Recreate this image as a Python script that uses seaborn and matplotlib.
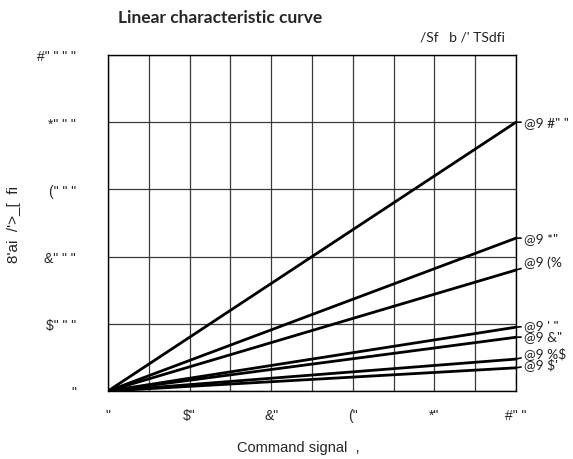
import numpy as np
import pandas as pd
import matplotlib
matplotlib.use('Agg')
import matplotlib.pyplot as plt
from matplotlib.ticker import MultipleLocator
import seaborn as sns

sns.set_theme(style='white')
plt.rcParams['font.family'] = ['Liberation Sans', 'DejaVu Sans']

# signal range and end values of each characteristic
signal = [0, 100]
curve_names = ['@9 #" "', '@9 *"', '@9 (%', '@9 \' "', '@9 &"', '@9 %$', "@9 $'"]
curve_end = [8000, 4550, 3600, 1900, 1600, 950, 690]
# small vertical nudges of the labels so they do not collide (pixels)
label_nudge = [0, 0, -8, -2, -1, -7, -4]

ytick_vals = [0, 2000, 4000, 6000, 8000, 10000]
ytick_text = ['"', '$" " "', '&" " "', '(" " "', '*" " "', '#" " " "']
xtick_vals = [0, 20, 40, 60, 80, 100]
xtick_text = ['"', '$"', '&"', '("', '*"', '#" "']

rows = []
for name, end in zip(curve_names, curve_end):
    for x in signal:
        rows.append({'signal': x, 'value': end * x / signal[-1], 'curve': name})
df = pd.DataFrame(rows)

fig = plt.figure(figsize=(5.73, 4.6), dpi=100)
ax = fig.add_axes([108/573, 1-392/460, (516-108)/573, (392-56)/460])

sns.lineplot(data=df, x='signal', y='value', units='curve', estimator=None,
             color='black', lw=2.0, ax=ax, legend=False)

ax.set_xlim(0, 100)
ax.set_ylim(0, 10000)
ax.xaxis.set_major_locator(MultipleLocator(20))
ax.xaxis.set_minor_locator(MultipleLocator(10))
ax.set_yticks(ytick_vals)
ax.set_xticks(xtick_vals)
ax.set_yticklabels(ytick_text, fontsize=10)
ax.set_xticklabels(xtick_text, fontsize=10)
ax.tick_params(axis='y', length=0, pad=23)
ax.tick_params(axis='x', length=0, pad=12)
ax.tick_params(which='minor', length=0)
ax.grid(True, which='both', color='#3a3a3a', lw=0.9)
for s in ax.spines.values():
    s.set_color('black')
    s.set_linewidth(1.0)
ax.set_xlabel('')
ax.set_ylabel('')

# labels at the right end of each curve
for name, end, dy in zip(curve_names, curve_end, label_nudge):
    ax.annotate(name, xy=(100, end), xycoords='data',
                xytext=(6, dy * -0.72), textcoords='offset points',
                fontsize=10, family=['Lato', 'DejaVu Sans'], color='#222222',
                va='center', ha='left', annotation_clip=False,
                arrowprops=dict(arrowstyle='-', color='black', lw=1.2,
                                shrinkA=0, shrinkB=0))

fig.text(118/573, 1-18/460, 'Linear characteristic curve', fontsize=12.5,
         fontweight='bold', family=['Lato', 'DejaVu Sans'], va='center', ha='left')
fig.text(505/573, 1-38/460, "/Sf   b /' TSdfi", fontsize=10,
         family=['Lato', 'DejaVu Sans'], va='center', ha='right', color='#222222')
fig.text(14/573, 1-225/460, "8'ai  /'>_[  fi", fontsize=11, rotation=90,
         va='center', ha='center', color='#222222')
fig.text(298/573, 1-448/460, 'Command signal  ,', fontsize=10.5,
         va='center', ha='center')

fig.savefig('out.png', dpi=100)
